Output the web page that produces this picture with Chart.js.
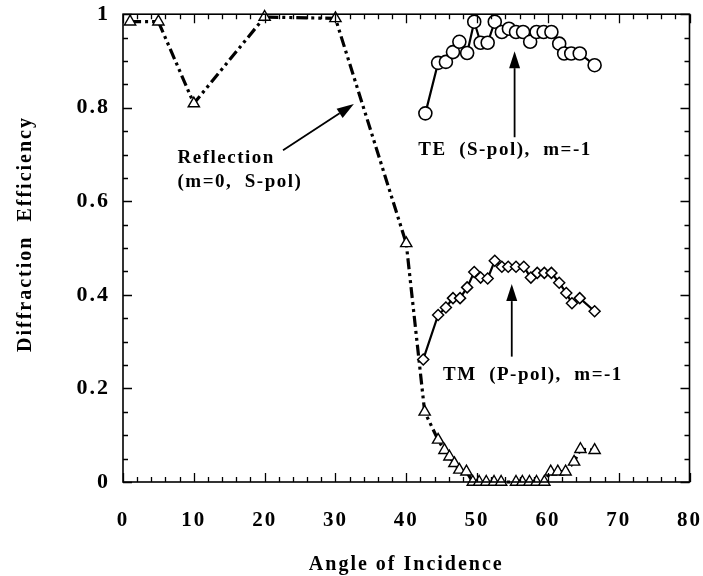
<!DOCTYPE html>
<html>
<head>
<meta charset="utf-8">
<script src="https://cdn.jsdelivr.net/npm/chart.js@4/dist/chart.umd.min.js"></script>
<style>
html,body{margin:0;padding:0;background:#fff;}
canvas{display:block;}
</style>
</head>
<body>
<canvas id="c" width="703" height="576"></canvas>
<script>
// ---- data ----
const reflAngle = [1, 5, 10, 20, 30, 40, 42.6, 44.5, 45.4, 46.1, 46.8, 47.5, 48.5, 49.4, 50.3, 51.3, 52.4, 53.4, 55.5, 56.4, 57.4, 58.4, 59.5, 60.4, 61.4, 62.5, 63.7, 64.6, 66.6];
const reflEff   = [0.984, 0.984, 0.809, 0.994, 0.991, 0.51, 0.150, 0.090, 0.068, 0.054, 0.040, 0.026, 0.022, 0, 0, 0, 0, 0, 0, 0, 0, 0, 0, 0.022, 0.022, 0.022, 0.043, 0.070, 0.068];

const teAngle = [42.7, 44.5, 45.6, 46.6, 47.5, 48.6, 49.6, 50.5, 51.5, 52.5, 53.5, 54.5, 55.5, 56.5, 57.5, 58.4, 59.4, 60.5, 61.6, 62.3, 63.3, 64.5, 66.6];
const teEff   = [0.788, 0.896, 0.898, 0.919, 0.941, 0.917, 0.984, 0.939, 0.939, 0.984, 0.962, 0.969, 0.962, 0.962, 0.941, 0.962, 0.962, 0.962, 0.937, 0.916, 0.916, 0.916, 0.891];

const tmAngle = [42.4, 44.5, 45.6, 46.6, 47.6, 48.6, 49.6, 50.5, 51.5, 52.5, 53.5, 54.4, 55.5, 56.6, 57.6, 58.5, 59.5, 60.5, 61.6, 62.6, 63.4, 64.5, 66.6];
const tmEff   = [0.262, 0.357, 0.373, 0.393, 0.393, 0.416, 0.449, 0.437, 0.435, 0.473, 0.460, 0.460, 0.460, 0.460, 0.437, 0.447, 0.447, 0.447, 0.426, 0.404, 0.382, 0.393, 0.365];

const xTickLabels = ['0','10','20','30','40','50','60','70','80'];
const yTickLabels = ['0','0.2','0.4','0.6','0.8','1'];

const xLabel = 'Angle of Incidence';
const yLabel = 'Diffraction  Efficiency';
const reflText = ['Reflection', '(m=0,  S-pol)'];
const teText = 'TE  (S-pol),  m=-1';
const tmText = 'TM  (P-pol),  m=-1';

const pts = (xs, ys) => xs.map((x, i) => ({x, y: ys[i]}));
const SERIF = '"Liberation Serif", "Times New Roman", serif';

// letter spacing for the scanned-look text
const spacing = {
  id: 'spacing',
  beforeLayout(chart){ chart.ctx.letterSpacing = '2px'; },
  beforeDraw(chart){ chart.ctx.letterSpacing = '2px'; }
};

// frame with inward ticks on all four sides + y title
const frame = {
  id: 'frame',
  afterDatasetsDraw(chart){
    const {ctx, chartArea: a, scales: {x, y}} = chart;
    ctx.save();
    ctx.strokeStyle = '#000';
    ctx.lineWidth = 1.6;
    ctx.strokeRect(a.left, a.top, a.right - a.left, a.bottom - a.top);
    ctx.lineWidth = 1.3;
    ctx.beginPath();
    for (let i = 0; i <= 40; i++){
      const v = i * 2;
      const px = Math.round(x.getPixelForValue(v)) + 0.5;
      const len = (v % 10 === 0) ? 9 : 5;
      ctx.moveTo(px, a.bottom); ctx.lineTo(px, a.bottom - len);
      ctx.moveTo(px, a.top); ctx.lineTo(px, a.top + len);
    }
    for (let i = 0; i <= 20; i++){
      const v = i * 0.05;
      const py = Math.round(y.getPixelForValue(v)) + 0.5;
      const len = (i % 4 === 0) ? 9 : 5;
      ctx.moveTo(a.left, py); ctx.lineTo(a.left + len, py);
      ctx.moveTo(a.right, py); ctx.lineTo(a.right - len, py);
    }
    ctx.stroke();
    ctx.restore();
  },
  afterDraw(chart){
    const {ctx} = chart;
    ctx.save();
    ctx.letterSpacing = '2px';
    ctx.fillStyle = '#000';
    ctx.font = 'bold 20px ' + SERIF;
    ctx.translate(26, 234);
    ctx.rotate(-Math.PI / 2);
    ctx.textAlign = 'center';
    ctx.textBaseline = 'middle';
    ctx.fillText(yLabel, 0, 0);
    ctx.restore();
  }
};

// annotations (text + arrows) placed in data coordinates
const notes = {
  id: 'notes',
  afterDraw(chart, args, opts){
    const {ctx, scales: {x, y}} = chart;
    ctx.save();
    ctx.letterSpacing = '1.5px';
    ctx.fillStyle = '#000';
    ctx.strokeStyle = '#000';
    ctx.font = 'bold 19px ' + SERIF;
    ctx.textAlign = 'left';
    ctx.textBaseline = 'middle';
    for (const t of opts.texts){
      ctx.fillText(t.text, x.getPixelForValue(t.x), y.getPixelForValue(t.y));
    }
    for (const ar of opts.arrows){
      const x0 = x.getPixelForValue(ar.from[0]), y0 = y.getPixelForValue(ar.from[1]);
      const x1 = x.getPixelForValue(ar.to[0]),   y1 = y.getPixelForValue(ar.to[1]);
      const ang = Math.atan2(y1 - y0, x1 - x0);
      const L = 17, W = 5.5;
      const bx = x1 - L * Math.cos(ang), by = y1 - L * Math.sin(ang);
      ctx.lineWidth = 1.8;
      ctx.beginPath(); ctx.moveTo(x0, y0); ctx.lineTo(bx, by); ctx.stroke();
      ctx.beginPath();
      ctx.moveTo(x1, y1);
      ctx.lineTo(bx + W * Math.sin(ang), by - W * Math.cos(ang));
      ctx.lineTo(bx - W * Math.sin(ang), by + W * Math.cos(ang));
      ctx.closePath(); ctx.fill();
    }
    ctx.restore();
  }
};

new Chart(document.getElementById('c'), {
  type: 'scatter',
  data: {
    datasets: [
      {
        label: 'TE (S-pol), m=-1',
        data: pts(teAngle, teEff),
        showLine: true,
        borderColor: '#000', borderWidth: 2.2,
        pointStyle: 'circle', pointRadius: 6.5,
        pointBackgroundColor: '#fff', pointBorderColor: '#000', pointBorderWidth: 1.6,
        clip: false
      },
      {
        label: 'TM (P-pol), m=-1',
        data: pts(tmAngle, tmEff),
        showLine: true,
        borderColor: '#000', borderWidth: 2.2,
        pointStyle: 'rectRot', pointRadius: 5.5,
        pointBackgroundColor: '#fff', pointBorderColor: '#000', pointBorderWidth: 1.5,
        clip: false
      },
      {
        label: 'Reflection (m=0, S-pol)',
        data: pts(reflAngle, reflEff),
        showLine: true,
        borderColor: '#000', borderWidth: 3.2,
        borderDash: [11, 4, 3, 4, 3, 4],
        pointStyle: 'triangle', pointRadius: 6.5,
        pointBackgroundColor: '#fff', pointBorderColor: '#000', pointBorderWidth: 1.4,
        clip: false
      }
    ]
  },
  options: {
    responsive: false,
    animation: false,
    devicePixelRatio: 1,
    layout: { padding: { top: 14, right: 8, left: 0, bottom: 0 } },
    plugins: {
      legend: { display: false },
      tooltip: { enabled: false },
      notes: {
        texts: [
          { text: reflText[0], x: 7.7, y: 0.692 },
          { text: reflText[1], x: 7.7, y: 0.641 },
          { text: teText, x: 41.7, y: 0.709 },
          { text: tmText, x: 45.2, y: 0.229 }
        ],
        arrows: [
          { from: [22.6, 0.709], to: [32.6, 0.808] },
          { from: [55.3, 0.737], to: [55.3, 0.921] },
          { from: [54.9, 0.268], to: [54.9, 0.423] }
        ]
      }
    },
    scales: {
      x: {
        type: 'linear', min: 0, max: 80,
        afterFit(s){ s.height = 94; },
        grid: { display: false, drawTicks: true, tickLength: 25 },
        border: { display: false },
        ticks: {
          stepSize: 10, padding: 1, color: '#000',
          font: { family: SERIF, size: 21, weight: 'bold' },
          callback: (v) => xTickLabels[Math.round(v / 10)]
        },
        title: {
          display: true, text: xLabel, color: '#000',
          font: { family: SERIF, size: 20, weight: 'bold', lineHeight: 1 },
          padding: { top: 0, bottom: 1 }
        }
      },
      y: {
        type: 'linear', min: 0, max: 1,
        afterFit(s){ s.width = 123; },
        grid: { display: false, drawTicks: true, tickLength: 12 },
        border: { display: false },
        ticks: {
          stepSize: 0.2, padding: 1, color: '#000',
          font: { family: SERIF, size: 22, weight: 'bold' },
          callback: (v) => yTickLabels[Math.round(v * 5)]
        }
      }
    }
  },
  plugins: [spacing, frame, notes]
});
</script>
</body>
</html>
